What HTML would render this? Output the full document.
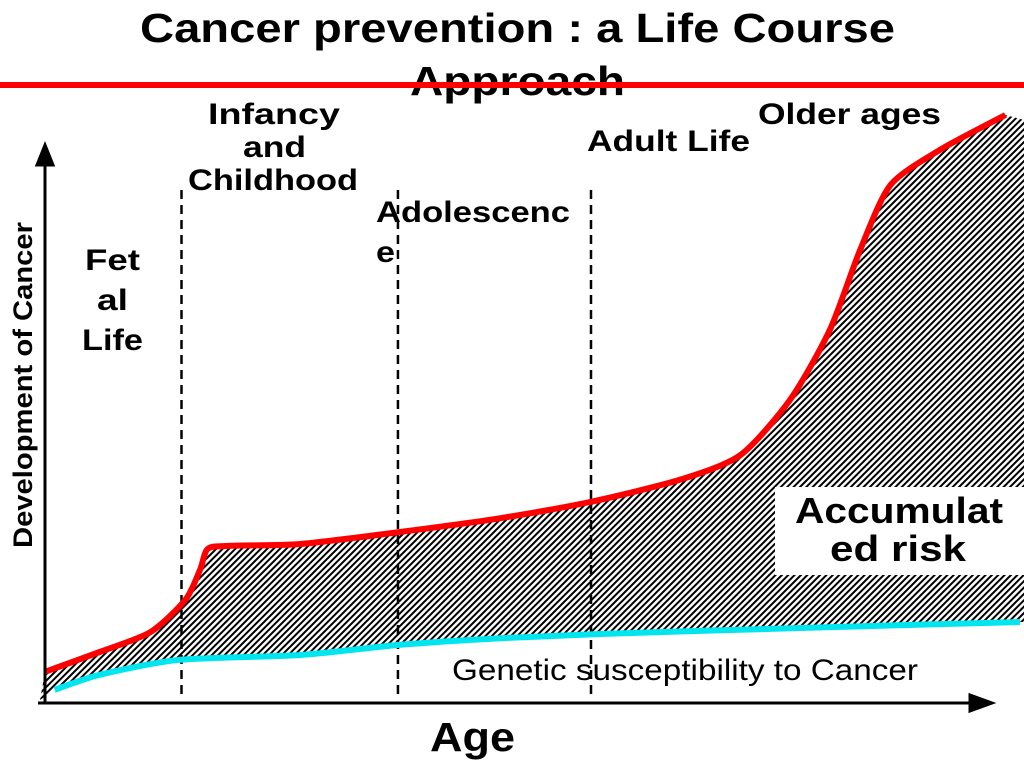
<!DOCTYPE html>
<html><head><meta charset="utf-8"><style>
body{margin:0;background:#fff;width:1024px;height:768px;overflow:hidden;font-family:"Liberation Sans",sans-serif}
svg{position:absolute;left:0;top:0}
</style></head><body>
<svg width="1024" height="768">
<defs>
<pattern id="hatch" patternUnits="userSpaceOnUse" width="4.5" height="4.5" patternTransform="rotate(-45)">
<rect width="4.5" height="2" fill="#000"/>
</pattern>
</defs>
<g id="plot"></g>
<rect x="775" y="487" width="249" height="88" fill="#fff"/>
<g lengthAdjust="spacingAndGlyphs">
<text x="795" y="523" textLength="208" lengthAdjust="spacingAndGlyphs" font-weight="bold" font-size="36">Accumulat</text>
<text x="830" y="561" textLength="136" lengthAdjust="spacingAndGlyphs" font-weight="bold" font-size="36">ed risk</text>
<text x="140" y="42" textLength="755" lengthAdjust="spacingAndGlyphs" font-weight="bold" font-size="41">Cancer prevention : a Life Course</text>
<text x="410" y="95" textLength="215" lengthAdjust="spacingAndGlyphs" font-weight="bold" font-size="41">Approach</text>
</g>
<rect x="0" y="82" width="1024" height="6" fill="#f00"/>
<g font-weight="bold" font-size="30">
<text x="85" y="270" textLength="55" lengthAdjust="spacingAndGlyphs">Fet</text>
<text x="97" y="310" textLength="31" lengthAdjust="spacingAndGlyphs">al</text>
<text x="82" y="350" textLength="61" lengthAdjust="spacingAndGlyphs">Life</text>
<text x="208" y="124" textLength="132" lengthAdjust="spacingAndGlyphs">Infancy</text>
<text x="243" y="157" textLength="63" lengthAdjust="spacingAndGlyphs">and</text>
<text x="188" y="190" textLength="170" lengthAdjust="spacingAndGlyphs">Childhood</text>
<text x="376" y="222" textLength="194" lengthAdjust="spacingAndGlyphs">Adolescenc</text>
<text x="376" y="262" textLength="19" lengthAdjust="spacingAndGlyphs">e</text>
<text x="587" y="151" textLength="163" lengthAdjust="spacingAndGlyphs">Adult Life</text>
<text x="758" y="124" textLength="183" lengthAdjust="spacingAndGlyphs">Older ages</text>
</g>
<text x="452" y="680" textLength="466" lengthAdjust="spacingAndGlyphs" font-size="30">Genetic susceptibility to Cancer</text>
<text x="430" y="751" textLength="85" lengthAdjust="spacingAndGlyphs" font-weight="bold" font-size="41">Age</text>
<text transform="translate(32,548) rotate(-90)" textLength="326" lengthAdjust="spacingAndGlyphs" font-weight="bold" font-size="27">Development of Cancer</text>
</svg>
<script>
const redAges=[0,5.6,10.8,14.4,15.9,16.7,19,26.2,36.4,46.7,55.9,65.1,71.3,76.4,80.5,83.6,86.7,91.8,98.5];
const redValues=[4.7,8,11.3,16.7,21.7,25.2,25.7,26,28,30.3,33,36.7,40.8,50,61.7,75,85.8,91.7,97.5];
const geneticAges=[1,5.6,13.8,26.2,36.4,46.7,56.9,77.4,100];
const geneticValues=[1.7,4.2,6.7,7.5,9.2,10.3,11,12,13];
const stageBoundaries=[14.0,36.2,56.0];
function x(a){return 45+a*9.75;}
function y(v){return 700-v*6;}
function pts(A,V){return A.map((a,i)=>[x(a),y(V[i])]);}
function smooth(p){let d='M'+p[0][0]+','+p[0][1];for(let i=0;i<p.length-1;i++){const p0=p[i-1]||p[i],p1=p[i],p2=p[i+1],p3=p[i+2]||p2;
d+=` C${p1[0]+(p2[0]-p0[0])/8},${p1[1]+(p2[1]-p0[1])/8} ${p2[0]-(p3[0]-p1[0])/8},${p2[1]-(p3[1]-p1[1])/8} ${p2[0]},${p2[1]}`;}return d;}
const NS='http://www.w3.org/2000/svg',g=document.getElementById('plot');
function mk(t,a){const e=document.createElementNS(NS,t);for(const k in a)e.setAttribute(k,a[k]);g.appendChild(e);return e;}
const rp=pts(redAges,redValues),cp=pts(geneticAges,geneticValues);
const rd=smooth(rp),cd=smooth(cp);
const rev=smooth(cp.slice().reverse());
let f=mk('path',{d:rd+' L1024,'+(rp[rp.length-1][1]+5)+' L1024,'+cp[cp.length-1][1]+rev.replace('M',' L')+' L40,700 Z',fill:'url(#hatch)'});


stageBoundaries.forEach(b=>{const l=mk('line',{x1:x(b),x2:x(b),y1:190,y2:700,stroke:'#000','stroke-width':2.5,'stroke-dasharray':'9,6'});

});
let c=mk('path',{d:cd,fill:'none',stroke:'#00e5ee','stroke-width':6});


let r=mk('path',{d:rd,fill:'none',stroke:'#f00','stroke-width':6});


let ya=mk('path',{d:'M45,703 L45,160 M37,165 L45,145 L53,165 Z',stroke:'#000','stroke-width':3,fill:'#000'});


let xa=mk('path',{d:'M38,703 L975,703 M970,695 L992,703 L970,711 Z',stroke:'#000','stroke-width':3,fill:'#000'});


</script>
</body></html>
